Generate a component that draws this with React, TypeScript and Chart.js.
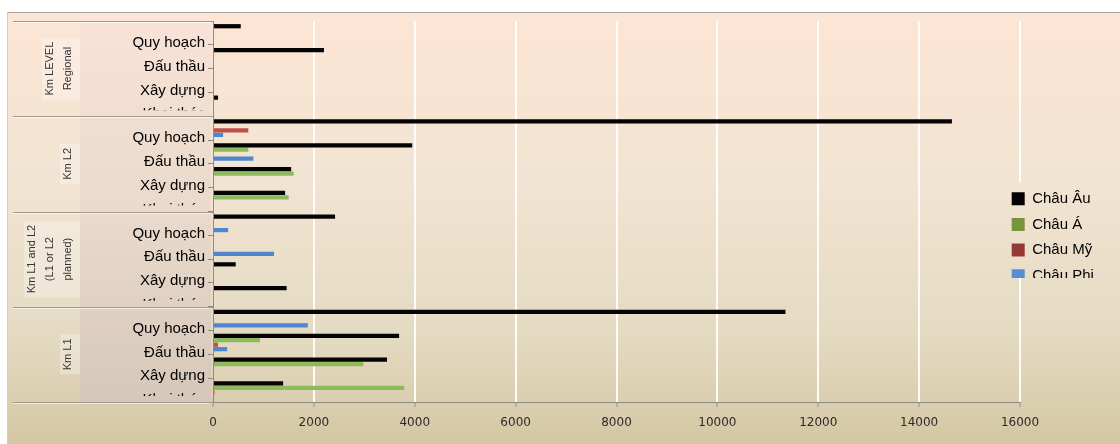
import React, { useEffect, useRef } from "react";
import { Chart, registerables } from "chart.js";

Chart.register(...registerables);

// ---- data ----
const groupLabels: string[][] = [
  ["Km LEVEL", "Regional"],
  ["Km L2"],
  ["Km L1 and L2", "(L1 or L2", "planned)"],
  ["Km L1"],
];
const stages = ["Quy hoạch", "Đấu thầu", "Xây dựng", "Khai thác"];
const categories = groupLabels.flatMap(() => stages);

const seriesNames = ["Châu Âu", "Châu Á", "Châu Mỹ", "Châu Phi"];
const chauAu = [550, 2200, 0, 100, 14650, 3950, 1550, 1430, 2420, 0, 450, 1460, 11350, 3690, 3450, 1390];
const chauA = [0, 0, 0, 0, 0, 700, 1600, 1500, 0, 0, 0, 0, 0, 930, 2980, 3790];
const chauMy = [0, 0, 0, 0, 700, 0, 0, 0, 0, 0, 0, 0, 0, 100, 0, 30];
const chauPhi = [0, 0, 0, 0, 200, 800, 0, 0, 300, 1210, 0, 0, 1880, 280, 0, 0];
const seriesValues = [chauAu, chauA, chauMy, chauPhi];

const barColors = ["#050303", "#8cba5c", "#c0504d", "#4f86cf"];
const legendColors = ["#000000", "#77933c", "#953735", "#558ed5"];

const xMin = 0;
const xMax = 16000;
const xStep = 2000;

// ---- style constants ----
const FONT = "'Liberation Sans', Arial, sans-serif";
const PANEL_L = 80;
const GROUP_L = 13;

function mainGradient(ctx: CanvasRenderingContext2D) {
  const g = ctx.createLinearGradient(0, 12, 0, 444);
  g.addColorStop(0, "#fde5d5");
  g.addColorStop(0.4, "#f1e4d2");
  g.addColorStop(0.75, "#e4dac2");
  g.addColorStop(1, "#d3c7a3");
  return g;
}
function panelGradient(ctx: CanvasRenderingContext2D, top: number, bottom: number) {
  const g = ctx.createLinearGradient(0, top, 0, bottom);
  g.addColorStop(0, "#f8e3d7");
  g.addColorStop(0.5, "#e9dacb");
  g.addColorStop(1, "#d6c8b9");
  return g;
}
function groupBounds(chart: any) {
  const a = chart.chartArea;
  const h = (a.bottom - a.top) / groupLabels.length;
  return groupLabels.map((_, i) => a.top + i * h).concat([a.bottom]);
}

const decorPlugin = {
  id: "decor",
  afterLayout(chart: any) {
    const lg = chart.legend;
    if (lg) {
      const w = lg.width;
      lg.left = 1001;
      lg.right = 1001 + w;
      lg.top = 180.5;
    }
  },
  beforeDraw(chart: any) {
    const ctx: CanvasRenderingContext2D = chart.ctx;
    const a = chart.chartArea;
    const W = chart.width;
    const H = chart.height;
    ctx.save();
    ctx.fillStyle = mainGradient(ctx);
    ctx.fillRect(8, 12, W - 8, H - 12);
    ctx.lineWidth = 1;
    ctx.strokeStyle = "#aca39e";
    ctx.beginPath();
    ctx.moveTo(8, 12.5);
    ctx.lineTo(W, 12.5);
    ctx.stroke();
    ctx.strokeStyle = "#d2cac4";
    ctx.beginPath();
    ctx.moveTo(7.5, 12);
    ctx.lineTo(7.5, H);
    ctx.stroke();
    // label panel
    ctx.fillStyle = panelGradient(ctx, a.top, a.bottom);
    ctx.fillRect(PANEL_L, a.top, a.left - 2 - PANEL_L, a.bottom - a.top);
    // group labels
    const b = groupBounds(chart);
    ctx.font = "11px " + FONT;
    ctx.textAlign = "center";
    ctx.textBaseline = "middle";
    groupLabels.forEach((lines, gi) => {
      const yc = (b[gi] + b[gi + 1]) / 2;
      const n = lines.length;
      const maxW = Math.max(...lines.map((l) => ctx.measureText(l).width));
      const x0 = 68 - (n - 1) * 18;
      ctx.fillStyle = "rgba(255,255,255,0.28)";
      ctx.fillRect(x0 - 8, yc - maxW / 2 - 4, PANEL_L - (x0 - 8), maxW + 8);
      ctx.fillStyle = "#333333";
      lines.forEach((line, li) => {
        ctx.save();
        ctx.translate(x0 + li * 18, yc);
        ctx.rotate(-Math.PI / 2);
        ctx.fillText(line, 0, 0);
        ctx.restore();
      });
    });
    ctx.restore();
  },
  afterDraw(chart: any) {
    const ctx: CanvasRenderingContext2D = chart.ctx;
    const a = chart.chartArea;
    const b = groupBounds(chart);
    ctx.save();
    // clip last stage label of each group
    ctx.fillStyle = panelGradient(ctx, a.top, a.bottom);
    for (let i = 1; i < b.length; i++) {
      const y0 = b[i] - 6;
      const y1 = Math.min(b[i] + 8, a.bottom);
      ctx.fillRect(PANEL_L, y0, a.left - 6 - PANEL_L, y1 - y0);
      if (i === b.length - 1) {
        ctx.fillStyle = mainGradient(ctx);
        ctx.fillRect(PANEL_L, a.bottom, a.left - 6 - PANEL_L, 10);
        ctx.fillStyle = panelGradient(ctx, a.top, a.bottom);
      }
    }
    // group separators
    b.forEach((y) => {
      const yy = Math.round(y) + 0.5;
      ctx.strokeStyle = "#a29a92";
      ctx.lineWidth = 1;
      ctx.beginPath();
      ctx.moveTo(GROUP_L, yy);
      ctx.lineTo(a.left, yy);
      ctx.stroke();
      ctx.strokeStyle = "rgba(255,255,255,0.6)";
      ctx.beginPath();
      ctx.moveTo(GROUP_L, yy + 1);
      ctx.lineTo(a.left - 3, yy + 1);
      ctx.stroke();
    });
    // legend clip
    ctx.fillStyle = mainGradient(ctx);
    ctx.fillRect(1004, 278, 116, 14);
    // last gridline segments outside the legend box
    const xs = chart.scales.x;
    const px = Math.round(xs.getPixelForValue(xMax));
    ctx.strokeStyle = "rgba(255,255,255,0.9)";
    ctx.lineWidth = 2;
    ctx.beginPath();
    ctx.moveTo(px, a.top);
    ctx.lineTo(px, 182);
    ctx.moveTo(px, 278);
    ctx.lineTo(px, a.bottom);
    ctx.stroke();
    ctx.restore();
  },
};

export default function App() {
  const ref = useRef<HTMLCanvasElement | null>(null);
  useEffect(() => {
    if (!ref.current) return;
    const chart = new Chart(ref.current, {
      type: "bar",
      data: {
        labels: categories,
        datasets: seriesNames.map((name, i) => ({
          label: name,
          data: seriesValues[i],
          backgroundColor: barColors[i],
          borderWidth: 0,
          categoryPercentage: 0.75,
          barPercentage: 0.95,
        })),
      },
      options: {
        indexAxis: "y",
        animation: false,
        responsive: false,
        layout: { padding: { top: 21, left: 0, right: 0, bottom: 0 } },
        plugins: {
          tooltip: { enabled: false },
          title: { display: false },
          legend: {
            display: true,
            position: "right",
            align: "start",
            maxWidth: 100,
            labels: {
              boxWidth: 13,
              boxHeight: 13,
              padding: 10.7,
              color: "#000",
              font: { family: FONT, size: 15 },
              generateLabels: () =>
                seriesNames.map((n, i) => ({
                  text: n,
                  fillStyle: legendColors[i],
                  strokeStyle: legendColors[i],
                  lineWidth: 0,
                  hidden: false,
                  datasetIndex: i,
                  fontColor: "#000",
                })),
            },
          },
        },
        scales: {
          x: {
            type: "linear",
            min: xMin,
            max: xMax,
            afterFit: (s: any) => {
              s.height = 42;
            },
            ticks: {
              stepSize: xStep,
              padding: 9,
              color: "#2b2b2b",
              font: { family: "'DejaVu Sans', sans-serif", size: 12 },
              callback: (v: any) => String(v),
            },
            grid: {
              color: (c: any) =>
                c.tick && (c.tick.value === xMax || c.tick.value === xMin)
                  ? "rgba(0,0,0,0)"
                  : "rgba(255,255,255,0.9)",
              lineWidth: 2,
              tickColor: "#b7ada0",
              tickLength: 5,
            },
            border: { display: true, color: "#8e8a84", width: 1 },
          },
          y: {
            type: "category",
            afterFit: (s: any) => {
              s.width = 213;
            },
            ticks: {
              autoSkip: false,
              labelOffset: 10,
              padding: 3,
              color: "#000",
              font: { family: FONT, size: 15 },
            },
            grid: {
              drawOnChartArea: false,
              drawTicks: true,
              tickLength: 5,
              color: "#8e8a84",
              offset: true,
            },
            border: { display: true, color: "#8e8a84", width: 1 },
          },
        },
      },
      plugins: [decorPlugin],
    });
    return () => chart.destroy();
  }, []);
  return (
    <div style={{ position: "fixed", left: 0, top: 0, width: 1120, height: 444, background: "#fff" }}>
      <canvas ref={ref} width={1120} height={444} style={{ display: "block" }} />
    </div>
  );
}
